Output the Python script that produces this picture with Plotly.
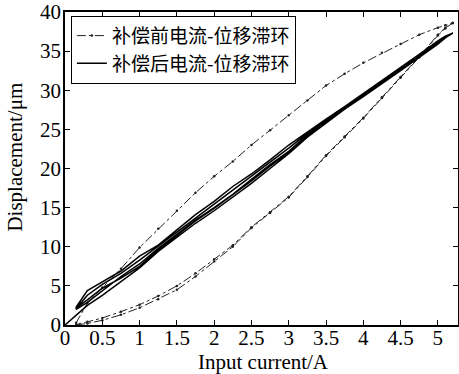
import plotly.graph_objects as go

# ---- data ----
x_grid = [0.15, 0.3, 0.5, 0.75, 1.0, 1.25, 1.5, 1.75, 2.0, 2.25, 2.5, 2.75,
          3.0, 3.25, 3.5, 3.75, 4.0, 4.25, 4.5, 4.75, 5.0, 5.1, 5.2]

# before compensation: ascending (lower) branch, two passes, and descending (upper) branch
before_up1 = [0.0, 0.2, 0.6, 1.3, 2.2, 3.3, 4.5, 6.2, 8.1, 10.0, 12.4, 14.3,
              16.3, 18.9, 21.6, 24.0, 26.4, 29.0, 31.6, 34.2, 37.0, 37.9, 38.6]
before_up2 = [0.1, 0.4, 0.9, 1.7, 2.6, 3.7, 5.0, 6.6, 8.4, 10.2, 12.5, 14.4,
              16.4, 19.0, 21.7, 24.1, 26.5, 29.1, 31.7, 34.3, 37.1, 38.0, 38.6]
before_down = [0.3, 2.8, 4.8, 7.2, 9.9, 12.3, 14.6, 16.9, 19.0, 20.9, 23.0, 24.9,
               26.8, 28.7, 30.6, 32.1, 33.5, 34.8, 35.9, 37.1, 38.0, 38.3, 38.6]

# after compensation: several cycles
after_start_x = [0.0, 0.15]
after_start_y = [0.0, 1.2]
after_up1 = [1.2, 2.5, 3.8, 5.5, 7.3, 9.4, 11.2, 13.0, 14.6, 16.3, 18.1, 20.0,
             21.9, 24.0, 25.8, 27.6, 29.2, 30.8, 32.5, 34.2, 35.9, 36.7, 37.3]
after_down1 = [2.3, 4.4, 5.5, 6.9, 8.8, 10.2, 12.2, 14.1, 15.8, 17.7, 19.3, 21.1,
               23.0, 24.6, 26.3, 27.9, 29.6, 31.2, 32.9, 34.6, 36.3, 36.9, 37.3]
after_up2 = [2.0, 2.9, 4.4, 6.2, 7.8, 9.8, 11.6, 13.4, 15.0, 16.7, 18.6, 20.5,
             22.2, 24.3, 26.0, 27.7, 29.4, 31.0, 32.7, 34.4, 36.0, 36.8, 37.3]
after_down2 = [2.1, 3.8, 5.2, 6.6, 8.3, 10.0, 11.9, 13.7, 15.4, 17.2, 19.0, 20.8,
               22.6, 24.5, 26.1, 27.8, 29.5, 31.1, 32.8, 34.5, 36.1, 36.8, 37.3]
after_up3 = [2.2, 3.2, 4.7, 6.0, 7.5, 9.6, 11.4, 13.3, 14.9, 16.6, 18.4, 20.3,
             22.1, 24.2, 25.9, 27.6, 29.3, 30.9, 32.6, 34.3, 36.0, 36.7, 37.3]

x_ticks = [0, 0.5, 1, 1.5, 2, 2.5, 3, 3.5, 4, 4.5, 5]
y_ticks = [0, 5, 10, 15, 20, 25, 30, 35, 40]

name_before = "补偿前电流-位移滞环"
name_after = "补偿后电流-位移滞环"
x_title = "Input current/A"
y_title = "Displacement/μm"

rev = x_grid[::-1]
bx = x_grid + rev + x_grid
by = before_up1 + before_down[::-1] + before_up2
ax = after_start_x + x_grid[1:] + rev + x_grid + rev + x_grid
ay = after_start_y + after_up1[1:] + after_down1[::-1] + after_up2 + after_down2[::-1] + after_up3

fig = go.Figure()
fig.add_trace(go.Scatter(
    x=bx, y=by, mode="lines+markers", name=name_before,
    line=dict(color="#222", width=1, dash="dashdot"),
    marker=dict(size=2.5, color="#222"),
))
fig.add_trace(go.Scatter(
    x=ax, y=ay, mode="lines", name=name_after,
    line=dict(color="black", width=1.5),
))

serif = "Liberation Serif, Times New Roman, serif"
axis_common = dict(
    showline=True, linecolor="black", linewidth=1.5, mirror="ticks",
    ticks="inside", ticklen=5, tickcolor="black", tickwidth=1,
    showgrid=False, zeroline=False, automargin=False,
    tickfont=dict(family=serif, size=21, color="black"),
)
fig.update_xaxes(range=[0, 5.27], tickvals=x_ticks,
                 ticktext=[str(v) for v in x_ticks],
                 ticklabelstandoff=-7, **axis_common)
fig.update_yaxes(range=[0, 40], tickvals=y_ticks,
                 ticklabelstandoff=-2, **axis_common)

title_font = dict(family=serif, size=21, color="black")
fig.add_annotation(text=x_title, xref="paper", yref="paper", x=0.504, y=-0.118,
                   xanchor="center", yanchor="middle", showarrow=False, font=title_font)
fig.add_annotation(text=y_title, xref="paper", yref="paper", x=-0.128, y=0.537,
                   xanchor="center", yanchor="middle", showarrow=False, textangle=-90,
                   font=title_font)

fig.update_layout(
    width=459, height=374,
    margin=dict(l=65, r=1, t=12, b=49),
    paper_bgcolor="white", plot_bgcolor="white",
    showlegend=True,
    legend=dict(x=0.015, y=0.988, xanchor="left", yanchor="top",
                bordercolor="black", borderwidth=1, bgcolor="white",
                font=dict(family="Noto Sans CJK SC", size=19, color="black"),
                tracegroupgap=0, itemwidth=30),
)
fig.write_html("out.html", config={"displayModeBar": False},
               post_script="document.body.style.margin='0';document.body.style.overflow='hidden';")
